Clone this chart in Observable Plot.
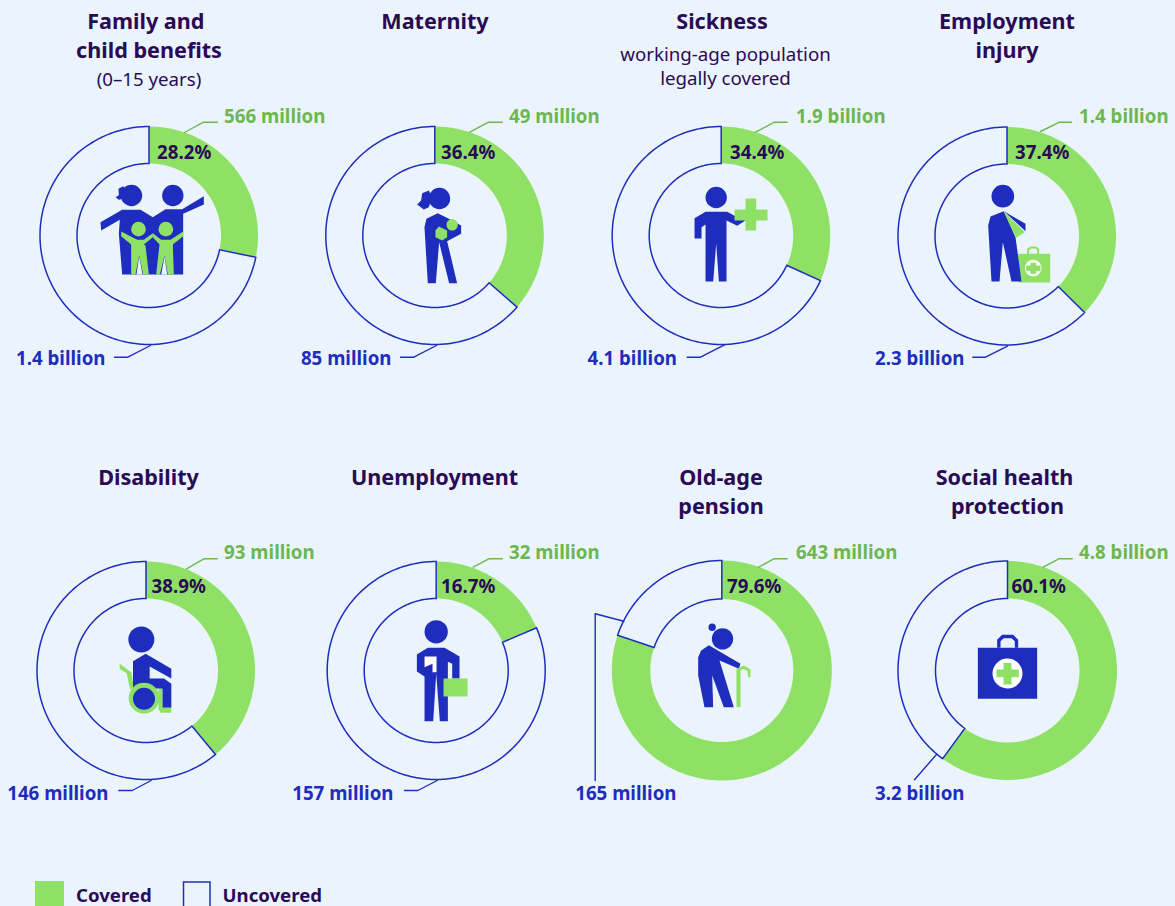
<!DOCTYPE html>
<html>
<head>
<meta charset="utf-8">
<script src="https://cdn.jsdelivr.net/npm/d3@7"></script>
<script src="https://cdn.jsdelivr.net/npm/@observablehq/plot@0.6"></script>
<style>
html,body{margin:0;padding:0;background:#ebf4fd;overflow:hidden}
</style>
</head>
<body>
<div id="chart"></div>
<script>
// ---------- data ----------
const categories = ["Family and child benefits","Maternity","Sickness","Employment injury","Disability","Unemployment","Old-age pension","Social health protection"];
const coveredPercentLabels = ["28.2%","36.4%","34.4%","37.4%","38.9%","16.7%","79.6%","60.1%"];
// share of the ring as drawn in the picture, read from the slice edges
const drawnShare = [28.2,36.4,31.8,37.4,39.0,18.6,80.2,60.1];
const coveredLabels = ["566 million","49 million","1.9 billion","1.4 billion","93 million","32 million","643 million","4.8 billion"];
const uncoveredLabels = ["1.4 billion","85 million","4.1 billion","2.3 billion","146 million","157 million","165 million","3.2 billion"];
const titleLines = [["Family and","child benefits"],["Maternity"],["Sickness"],["Employment","injury"],["Disability"],["Unemployment"],["Old-age","pension"],["Social health","protection"]];
const noteLines = [["(0–15 years)"],[],["working-age population","legally covered"],[],[],[],[],[]];
const legendLabels = ["Covered","Uncovered"];

// ---------- layout and style ----------
const BG="#ebf4fd", GREEN="#8fe166", LABELGREEN="#6db750", BLUE="#1e2dbe", INK="#2a0a55";
const FONT="'Noto Sans', sans-serif";
const innerR=[72,72,72,72,72,72,71.5,72], outerR=[109,109,109,109,109,109,110,109.5];
const centers=[[148.5,235],[434.3,235],[720.7,235],[1006.5,235.5],[145.5,670],[435.7,670],[721.3,670],[1007,670]];
const titleX=[[145.3,148.5],[434.5],[721.5],[1006.5,1006.5],[148],[434],[720.5,720.5],[1004,1007]];
const titleY=[[22,50.5],[22],[22],[22,50.5],[478],[478],[478,506.5],[478,506.5]];
const noteX=[148.5,0,725,0,0,0,0,0];
const noteY=[[79.5],[],[55,79],[],[],[],[],[]];
const pctX=[183.7,467.7,756.7,1041.7,178.2,467.7,753.7,1038.2];
const pctY=[152.5,152.5,152.5,152.5,586.5,586.5,586.5,586.5];
const coveredLabelX=[223.6,508.6,795.6,1078.6,223.6,508.6,795.6,1078.6];
const coveredLabelY=[117,117,117,117,553,553,553,553];
const uncoveredLabelX=[105,391,676.5,964,108,393,676,964];
const uncoveredLabelY=[359,359,359,359,794,794,794,794];
const coveredLeaders=[
 [[184,132],[203,121.7],[217,121.7]],[[469.3,131.7],[488,121.7],[501.7,121.7]],
 [[755,131.7],[774,121.7],[786.7,121.7]],[[1040,131],[1059,121.7],[1071,121.7]],
 [[186,568.3],[203.3,558.3],[216.7,558.3]],[[472.7,566.7],[488.3,558.3],[501.7,558.3]],
 [[758.3,566.7],[773.3,558.3],[786.7,558.3]],[[1042.7,566.7],[1058.3,558.3],[1071.7,558.3]]];
const uncoveredLeaders=[
 [[150,345],[127.3,356.7],[114,356.7]],[[436,345],[413.3,356.7],[400,356.7]],
 [[724,344.3],[700,356.7],[686.7,356.7]],[[1007,345.7],[985,356.7],[972.3,356.7]],
 [[150.7,780],[131.7,790],[118.3,790]],[[436.7,780],[417.3,790],[404,790]],
 [[623.3,620.7],[594.7,613.3],[594.7,780]],[[936,754],[914,779.3]]];

// ---------- pictograms (shapes in 3x units around an origin) ----------
const P=(fill,...pts)=>({fill,pts});
const C=(fill,x,y,r)=>({fill,c:[x,y,r]});
const Rc=(fill,x1,y1,x2,y2)=>({fill,pts:[[x1,y1],[x2,y1],[x2,y2],[x1,y2]]});
const icons=[
 {o:[175.5,195],parts:[
  P(BLUE,[30,155],[95,118],[150,118],[187,140],[225,116],[275,116],[340,77],[340,102],[278,130],[278,312],[95,312],[85,190],[88,148],[32,180]),
  C(BLUE,123,75,32),P(BLUE,[75,80],[85,74],[84,55],[98,47],[110,60],[100,85],[85,88]),C(BLUE,247,75,32),
  C(GREEN,144,176,22),C(GREEN,226,176,22),
  P(GREEN,[92,183],[140,208],[160,208],[187,188],[187,200],[160,222],[165,225],[175,312],[158,312],[146,255],[135,312],[122,312],[122,222],[92,197]),
  P(GREEN,[187,188],[212,208],[240,208],[278,183],[278,197],[247,222],[250,312],[232,312],[222,255],[208,312],[197,312],[207,222],[187,200]),
  P(BG,[146,258],[138,312],[156,312]),P(BG,[222,258],[212,312],[230,312]),
 ]},
 {o:[403,705],parts:[
  C(BLUE,417,594,32),P(BLUE,[350,612],[362,600],[365,578],[385,570],[395,590],[385,620],[370,627]),
  P(BLUE,[372,680],[378,655],[412,638],[445,655],[482,675],[482,700],[440,722],[470,848],[446,848],[416,725],[406,848],[382,848]),
  C(GREEN,455,673,17),P(GREEN,[405,690],[415,678],[440,690],[440,710],[425,720],[405,710]),
 ]},
 {o:[392,705],parts:[
  C(BLUE,377,591,32),
  P(BLUE,[312,653],[345,634],[410,634],[440,650],[465,660],[440,676],[408,660],[408,843],[385,843],[377,730],[368,843],[345,843],[345,672],[333,680],[333,714],[312,714]),
  Rc(GREEN,465,594,497,690),Rc(GREEN,432,627,531,660),
 ]},
 {o:[394.5,706.5],parts:[
  Rc(GREEN,428,760,524,846),
  P(GREEN,[455,762],[455,745],[465,738],[482,738],[491,745],[491,762],[485,762],[485,749],[480,744],[467,744],[461,749],[461,762]),
  C("#fff",473,803,25),Rc(GREEN,465,787,482,820),Rc(GREEN,452,795,495,812),
  C(BLUE,382,587,34),
  P(BLUE,[338,675],[345,648],[385,632],[420,710],[438,843],[408,843],[382,725],[372,843],[348,843]),
  P(BLUE,[385,632],[450,670],[450,692]),
  P(GREEN,[385,634],[448,695],[422,712]),
 ]},
 {o:[436,660],parts:[
  C(BLUE,422,567,39),
  P(GREEN,[357,640],[392,665],[400,712],[388,716],[378,668],[357,655]),
  P(BLUE,[397,632],[435,610],[512,655],[512,684],[447,648],[447,684],[490,684],[512,700],[512,772],[485,772],[485,715],[397,712]),
  P(GREEN,[473,715],[485,715],[485,772],[512,772],[512,787],[480,787],[473,775]),
  C(GREEN,430,743,46),C(BLUE,430,745,33),
 ]},
 {o:[437,660],parts:[
  C(BLUE,437,544,35),
  P(BLUE,[379,612],[412,592],[462,592],[507,618],[507,684],[485,684],[485,640],[472,634],[472,812],[448,812],[437,670],[428,812],[402,812],[402,678],[379,663]),
  P("#fff",[402,618],[438,618],[438,665],[426,665],[426,640],[402,650]),
  Rc(GREEN,459,684,531,738),
 ]},
 {o:[453.9,660],parts:[
  C(BLUE,456,565,32),C(BLUE,425,530,11),
  P(BLUE,[383,620],[392,600],[415,584],[510,640],[505,655],[447,630],[490,770],[460,770],[425,675],[428,770],[402,770],[383,675]),
  Rc(GREEN,498,655,510,770),
  P(GREEN,[498,655],[520,645],[540,657],[540,680],[532,680],[532,662],[518,655],[505,662]),
 ]},
 {o:[411,660],parts:[
  Rc(BLUE,322,592,500,745),
  P(BLUE,[380,592],[380,568],[395,553],[428,553],[443,568],[443,592],[433,592],[433,572],[423,563],[400,563],[390,572],[390,592]),
  C("#fff",411,669,45),Rc(GREEN,399,637,423,702),Rc(GREEN,378,657,445,680),
 ]},
];
function partSymbol(part,o){
  return {draw(ctx){
    const sx=v=>(v-o[0])/3, sy=v=>(v-o[1])/3;
    if(part.c){
      const [x,y,r]=part.c; const cx=sx(x), cy=sy(y), rr=r/3;
      ctx.moveTo(cx+rr,cy); ctx.arc(cx,cy,rr,0,2*Math.PI); ctx.closePath();
    } else {
      part.pts.forEach(([x,y],i)=> i?ctx.lineTo(sx(x),sy(y)):ctx.moveTo(sx(x),sy(y)));
      ctx.closePath();
    }
  }};
}

// ---------- derived tables ----------
function sector(i,from,to){
  const [cx,cy]=centers[i], pts=[], n=Math.max(2,Math.ceil((to-from)*3.6));
  for(let k=0;k<=n;k++){const a=(from+(to-from)*k/n)/100*2*Math.PI; pts.push({x:cx+outerR[i]*Math.sin(a),y:cy-outerR[i]*Math.cos(a),i});}
  for(let k=n;k>=0;k--){const a=(from+(to-from)*k/n)/100*2*Math.PI; pts.push({x:cx+innerR[i]*Math.sin(a),y:cy-innerR[i]*Math.cos(a),i});}
  return pts;
}
const covered=categories.flatMap((_,i)=>sector(i,0,drawnShare[i]));
const uncovered=categories.flatMap((_,i)=>sector(i,drawnShare[i],100));
const leaderRows=l=>l.flatMap((seg,i)=>seg.map(([x,y])=>({x,y,i})));
const titles=titleLines.flatMap((ls,i)=>ls.map((t,j)=>({t,x:titleX[i][j],y:titleY[i][j]})));
const notes=noteLines.flatMap((ls,i)=>ls.map((t,j)=>({t,x:noteX[i],y:noteY[i][j]})));
const rows=categories.map((c,i)=>({c,i}));

const iconMarks=icons.flatMap((ic,i)=>ic.parts.map(part=>
  Plot.dot([centers[i]],{x:d=>d[0],y:d=>d[1],symbol:partSymbol(part,ic.o),fill:part.fill,stroke:"none"})));

const chart=Plot.plot({
  width:1175,height:906,margin:0,
  style:{background:BG,fontFamily:FONT},
  x:{domain:[0,1175],range:[0,1175],axis:null},
  y:{domain:[0,906],range:[0,906],axis:null},
  marks:[
    Plot.line(covered,{x:"x",y:"y",z:"i",fill:GREEN,stroke:"none",curve:"linear-closed"}),
    Plot.line(uncovered,{x:"x",y:"y",z:"i",fill:BG,stroke:BLUE,strokeWidth:1.5,strokeLinejoin:"miter",strokeMiterlimit:4,curve:"linear-closed"}),
    Plot.line(leaderRows(coveredLeaders),{x:"x",y:"y",z:"i",stroke:LABELGREEN,strokeWidth:1.4,curve:"linear"}),
    Plot.line(leaderRows(uncoveredLeaders),{x:"x",y:"y",z:"i",stroke:BLUE,strokeWidth:1.4,curve:"linear"}),
    ...iconMarks,
    Plot.text(titles,{x:"x",y:"y",text:"t",fill:INK,fontSize:21.6,fontWeight:700,lineAnchor:"middle",textAnchor:"middle"}),
    Plot.text(notes,{x:"x",y:"y",text:"t",fill:INK,fontSize:18.7,fontWeight:400,lineAnchor:"middle",textAnchor:"middle"}),
    Plot.text(rows,{x:d=>pctX[d.i],y:d=>pctY[d.i],text:d=>coveredPercentLabels[d.i],fill:INK,fontSize:18.7,fontWeight:700,lineAnchor:"middle",textAnchor:"middle"}),
    Plot.text(rows,{x:d=>coveredLabelX[d.i],y:d=>coveredLabelY[d.i],text:d=>coveredLabels[d.i],fill:LABELGREEN,fontSize:18.7,fontWeight:700,lineAnchor:"middle",textAnchor:"start"}),
    Plot.text(rows,{x:d=>uncoveredLabelX[d.i],y:d=>uncoveredLabelY[d.i],text:d=>uncoveredLabels[d.i],fill:BLUE,fontSize:18.7,fontWeight:700,lineAnchor:"middle",textAnchor:"end"}),
    Plot.rect([0],{x1:35,x2:64,y1:881,y2:907,fill:GREEN}),
    Plot.rect([0],{x1:183.5,x2:210,y1:882,y2:908,fill:"none",stroke:BLUE,strokeWidth:1.5}),
    Plot.text([0],{x:75.5,y:896,text:()=>legendLabels[0],fill:INK,fontSize:18.6,fontWeight:700,lineAnchor:"middle",textAnchor:"start"}),
    Plot.text([0],{x:222,y:896,text:()=>legendLabels[1],fill:INK,fontSize:18.6,fontWeight:700,lineAnchor:"middle",textAnchor:"start"}),
  ]
});
document.getElementById("chart").append(chart);
</script>
</body>
</html>
